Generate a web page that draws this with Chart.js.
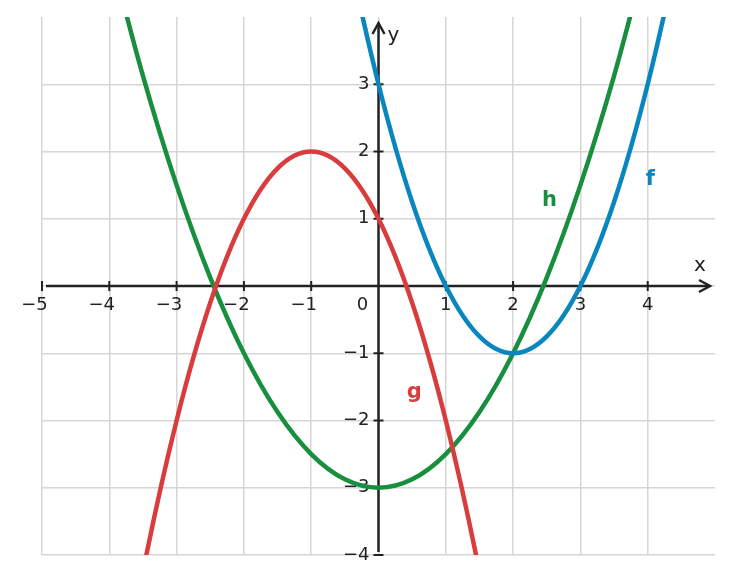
<!DOCTYPE html>
<html>
<head>
<meta charset="utf-8">
<script src="https://cdn.jsdelivr.net/npm/chart.js@4/dist/chart.umd.min.js"></script>
<style>
  html, body { margin: 0; padding: 0; background: #fff; }
  #wrap { width: 732px; height: 584px; }
</style>
</head>
<body>
<div id="wrap"><canvas id="graph"></canvas></div>
<script>
// values
const xValues = [-4, -3.5, -3, -2.5, -2, -1.5, -1, -0.5, 0, 0.5, 1, 1.5, 2, 2.5, 3, 3.5, 4, 4.5, 5];
const fValues = [null, null, null, null, null, null, 8, 5.25, 3, 1.25, 0, -0.75, -1, -0.75, 0, 1.25, 3, 5.25, 8];
const gValues = [-7, -4.25, -2, -0.25, 1, 1.75, 2, 1.75, 1, -0.25, -2, -4.25, -7, null, null, null, null, null, null];
const hValues = [5, 3.125, 1.5, 0.125, -1, -1.875, -2.5, -2.875, -3, -2.875, -2.5, -1.875, -1, 0.125, 1.5, 3.125, 5, null, null];
const xTicks = [-5, -4, -3, -2, -1, 1, 2, 3, 4];
const yTicks = [-4, -3, -2, -1, 1, 2, 3];
const curveLabels = [
    { text: 'f', x: 4.04, y: 1.58, color: '#0a86bf' },
    { text: 'g', x: 0.53, y: -1.58, color: '#d83c3c' },
    { text: 'h', x: 2.54, y: 1.27, color: '#178f3e' }
];

const toPoints = ys => xValues.map((x, i) => ({ x: x, y: ys[i] }));
const minus = v => (v < 0 ? '\u2212' + Math.abs(v) : String(v));
const ink = '#222222';

// axes with arrows, tick marks and labels drawn through the origin
const axesPlugin = {
    id: 'axes',
    beforeDatasetsDraw(chart) {
        const ctx = chart.ctx;
        const xs = chart.scales.x, ys = chart.scales.y;
        const ox = xs.getPixelForValue(0), oy = ys.getPixelForValue(0);
        const area = chart.chartArea;
        ctx.save();
        ctx.strokeStyle = ink;
        ctx.lineWidth = 2.5;
        ctx.lineCap = 'butt';
        // x axis
        ctx.beginPath();
        ctx.moveTo(area.left + 4, oy);
        ctx.lineTo(area.right - 5, oy);
        ctx.stroke();
        // y axis
        ctx.beginPath();
        ctx.moveTo(ox, area.bottom - 3);
        ctx.lineTo(ox, area.top + 6);
        ctx.stroke();
        // arrow heads
        ctx.lineJoin = 'miter';
        ctx.beginPath();
        ctx.moveTo(area.right - 16, oy - 6);
        ctx.lineTo(area.right - 5, oy);
        ctx.lineTo(area.right - 16, oy + 6);
        ctx.stroke();
        ctx.beginPath();
        ctx.moveTo(ox - 6, area.top + 17);
        ctx.lineTo(ox, area.top + 6);
        ctx.lineTo(ox + 6, area.top + 17);
        ctx.stroke();
        // tick marks
        ctx.lineWidth = 2;
        xTicks.forEach(v => {
            const px = xs.getPixelForValue(v);
            ctx.beginPath();
            ctx.moveTo(px, oy - 5);
            ctx.lineTo(px, oy + 5);
            ctx.stroke();
        });
        yTicks.forEach(v => {
            const py = ys.getPixelForValue(v);
            ctx.beginPath();
            ctx.moveTo(ox - 5, py);
            ctx.lineTo(ox + 5, py);
            ctx.stroke();
        });
        // tick labels: the digit sits centred under the tick
        ctx.fillStyle = ink;
        ctx.font = '18px "DejaVu Sans"';
        ctx.textBaseline = 'middle';
        ctx.textAlign = 'right';
        xTicks.forEach(v => {
            const digit = ctx.measureText(String(Math.abs(v))).width;
            ctx.fillText(minus(v), xs.getPixelForValue(v) + digit / 2, oy + 19);
        });
        ctx.textAlign = 'center';
        ctx.fillText('0', ox - 16, oy + 19);
        ctx.textAlign = 'right';
        yTicks.forEach(v => {
            ctx.fillText(minus(v), ox - 9, ys.getPixelForValue(v));
        });
        // axis names
        ctx.font = '20px "DejaVu Sans"';
        ctx.textAlign = 'center';
        ctx.fillText('x', area.right - 15, oy - 20);
        ctx.fillText('y', ox + 15, area.top + 19);
        ctx.restore();
    },
    afterDatasetsDraw(chart) {
        const ctx = chart.ctx;
        const xs = chart.scales.x, ys = chart.scales.y;
        ctx.save();
        ctx.font = 'bold 21px "DejaVu Sans"';
        ctx.textAlign = 'center';
        ctx.textBaseline = 'middle';
        curveLabels.forEach(l => {
            ctx.fillStyle = l.color;
            ctx.fillText(l.text, xs.getPixelForValue(l.x), ys.getPixelForValue(l.y));
        });
        ctx.restore();
    }
};

const curve = (label, ys, color) => ({
    label: label,
    data: toPoints(ys),
    borderColor: color,
    borderWidth: 4.5,
    pointRadius: 0,
    fill: false,
    cubicInterpolationMode: 'monotone'
});

new Chart(document.getElementById('graph'), {
    type: 'line',
    data: {
        datasets: [
            curve('f', fValues, '#0a86bf'),
            curve('g', gValues, '#d83c3c'),
            curve('h', hValues, '#178f3e')
        ]
    },
    options: {
        responsive: true,
        maintainAspectRatio: false,
        animation: false,
        layout: { padding: { left: 42, right: 17, top: 17, bottom: 29 } },
        plugins: { legend: { display: false }, tooltip: { enabled: false } },
        scales: {
            x: {
                type: 'linear',
                min: -5,
                max: 5,
                border: { display: false },
                ticks: { display: false, stepSize: 1 },
                grid: {
                    drawTicks: false,
                    lineWidth: 1.5,
                    color: c => (c.tick.value === 5 ? 'rgba(0,0,0,0)' : '#d6d6d6')
                }
            },
            y: {
                min: -4,
                max: 4,
                border: { display: false },
                ticks: { display: false, stepSize: 1 },
                grid: {
                    drawTicks: false,
                    lineWidth: 1.5,
                    color: c => (c.tick.value === 4 ? 'rgba(0,0,0,0)' : '#d6d6d6')
                }
            }
        }
    },
    plugins: [axesPlugin]
});
</script>
</body>
</html>
